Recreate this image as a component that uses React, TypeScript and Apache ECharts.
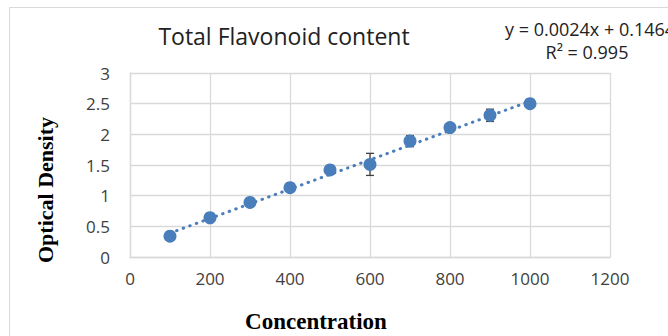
import React, { useEffect, useRef } from "react";
import * as echarts from "echarts";

const concentration = [100, 200, 300, 400, 500, 600, 700, 800, 900, 1000];
const opticalDensity = [0.34, 0.64, 0.89, 1.13, 1.42, 1.51, 1.89, 2.11, 2.31, 2.5];
const errorValues = [0.02, 0.02, 0.03, 0.03, 0.03, 0.18, 0.09, 0.04, 0.1, 0.02];
const trendX = [100, 1000];
const trendY = [0.39, 2.54];
const titleText = "Total Flavonoid content";
const equationText = "y = 0.0024x + 0.1464";
const r2Text = "R² = 0.995";
const xAxisTitle = "Concentration";
const yAxisTitle = "Optical Density";

export default function App() {
  const ref = useRef<HTMLDivElement>(null);
  useEffect(() => {
    if (!ref.current) return;
    const chart = echarts.init(ref.current, null, { renderer: "svg" });
    const blue = "#4a7ebb";
    const sans = "Open Sans";
    const points = concentration.map((x, i) => [x, opticalDensity[i]]);
    const errData = concentration.map((x, i) => [x, opticalDensity[i], errorValues[i]]);
    chart.setOption({
      animation: false,
      backgroundColor: "#ffffff",
      grid: { left: 130, right: 58, top: 73, bottom: 79, containLabel: false },
      xAxis: {
        type: "value",
        min: 0,
        max: 1200,
        interval: 200,
        axisLine: { show: true, lineStyle: { color: "#d9d9d9", width: 1.3 } },
        axisTick: { show: false },
        splitLine: { show: true, lineStyle: { color: "#d9d9d9", width: 1.3 } },
        axisLabel: {
          color: "#404040",
          fontFamily: sans,
          fontSize: 17,
          margin: 13,
          formatter: (v: number) => String(v),
        },
      },
      yAxis: {
        type: "value",
        min: 0,
        max: 3,
        interval: 0.5,
        axisLine: { show: true, lineStyle: { color: "#d9d9d9", width: 1.3 } },
        axisTick: { show: false },
        splitLine: { show: true, lineStyle: { color: "#d9d9d9", width: 1.3 } },
        axisLabel: {
          color: "#404040",
          fontFamily: sans,
          fontSize: 17,
          margin: 20,
          formatter: (v: number) => String(v),
        },
      },
      series: [
        {
          type: "custom",
          data: errData,
          z: 2,
          renderItem: (params: any, api: any) => {
            const x = api.value(0);
            const y = api.value(1);
            const e = api.value(2);
            const top = api.coord([x, y + e]);
            const bot = api.coord([x, y - e]);
            const w = 4;
            const style = { stroke: "#404040", lineWidth: 1.3 };
            return {
              type: "group",
              children: [
                { type: "line", shape: { x1: top[0], y1: top[1], x2: bot[0], y2: bot[1] }, style },
                { type: "line", shape: { x1: top[0] - w, y1: top[1], x2: top[0] + w, y2: top[1] }, style },
                { type: "line", shape: { x1: bot[0] - w, y1: bot[1], x2: bot[0] + w, y2: bot[1] }, style },
              ],
            };
          },
        },
        {
          type: "scatter",
          data: points,
          symbol: "circle",
          symbolSize: 13,
          z: 3,
          itemStyle: { color: blue, opacity: 1 },
        },
        {
          type: "line",
          data: trendX.map((x, i) => [x, trendY[i]]),
          showSymbol: false,
          symbol: "none",
          z: 4,
          lineStyle: { color: blue, width: 3, type: [0.5, 6.5], cap: "round" },
        },
      ],
      graphic: [
        {
          type: "rect",
          shape: { x: 9.5, y: 7.5, width: 700, height: 400 },
          style: { fill: "none", stroke: "#d9d9d9", lineWidth: 1 },
          silent: true,
        },
        {
          type: "text",
          x: 284,
          y: 36,
          style: {
            text: titleText,
            fontFamily: sans,
            fontSize: 23,
            fill: "#222222",
            textAlign: "center",
            textVerticalAlign: "middle",
          },
        },
        {
          type: "text",
          x: 505,
          y: 29,
          style: {
            text: equationText,
            fontFamily: sans,
            fontSize: 18,
            fill: "#222222",
            textAlign: "left",
            textVerticalAlign: "middle",
          },
        },
        {
          type: "text",
          x: 587,
          y: 52,
          style: {
            text: r2Text,
            fontFamily: sans,
            fontSize: 18,
            fill: "#222222",
            textAlign: "center",
            textVerticalAlign: "middle",
          },
        },
        {
          type: "text",
          x: 316,
          y: 321,
          style: {
            text: xAxisTitle,
            fontFamily: "Liberation Serif",
            fontWeight: "bold",
            fontSize: 23,
            fill: "#000000",
            textAlign: "center",
            textVerticalAlign: "middle",
          },
        },
        {
          type: "text",
          x: 45,
          y: 190,
          rotation: Math.PI / 2,
          style: {
            text: yAxisTitle,
            fontFamily: "Liberation Serif",
            fontWeight: "bold",
            fontSize: 22,
            fill: "#000000",
            textAlign: "center",
            textVerticalAlign: "middle",
          },
        },
      ],
    });
    return () => chart.dispose();
  }, []);
  return (
    <div
      ref={ref}
      style={{ position: "absolute", left: 0, top: 0, width: 668, height: 336 }}
    />
  );
}
